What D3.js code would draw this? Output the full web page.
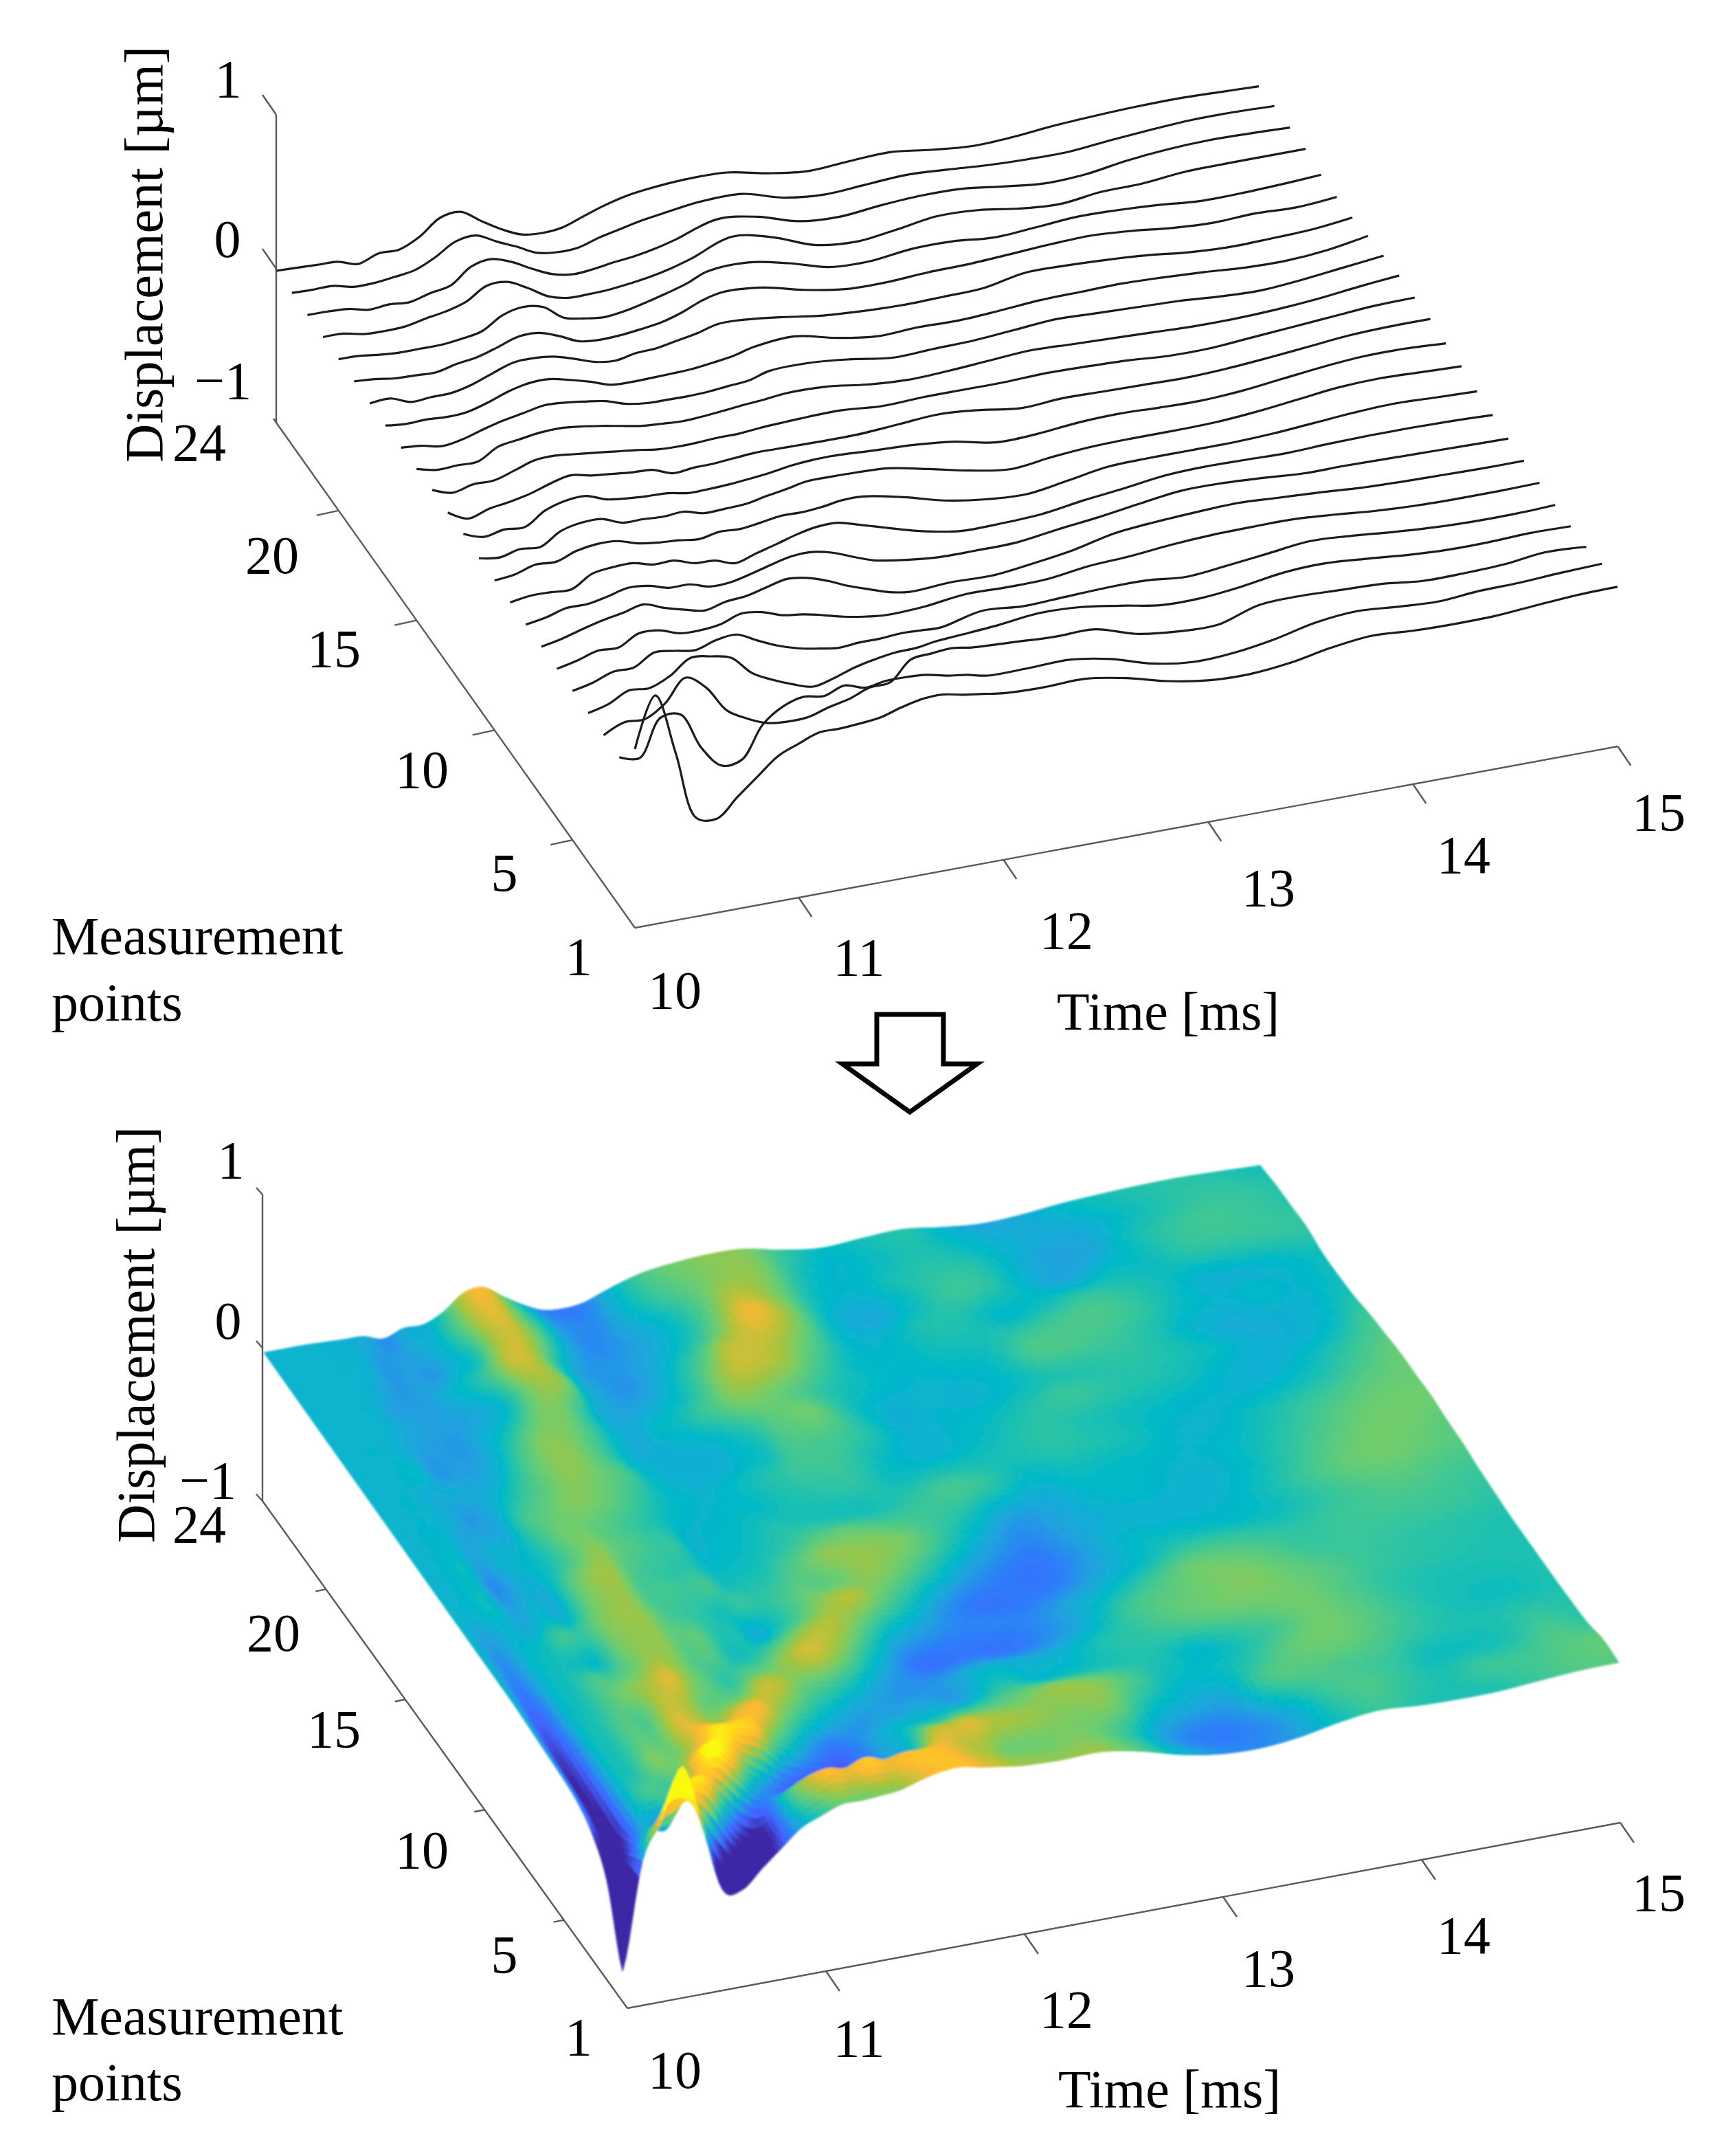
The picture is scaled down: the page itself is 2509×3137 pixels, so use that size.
<!DOCTYPE html>
<html>
<head>
<meta charset="utf-8">
<script src="https://cdn.jsdelivr.net/npm/d3@7"></script>
<style>
  body { margin: 0; background: #fff; }
  text { font-family: "Liberation Serif", serif; font-size: 78px; fill: #000; }
</style>
</head>
<body>
<svg id="chart" width="2509" height="3137">
  <defs><filter id="soft" x="-5%" y="-5%" width="110%" height="110%"><feGaussianBlur stdDeviation="1.6"/></filter></defs>
</svg>
<script>
//////////////////////////////////////////////////////////////
//                         data
//////////////////////////////////////////////////////////////

const times = [10.0, 10.1, 10.2, 10.3, 10.4, 10.5, 10.6, 10.7, 10.8, 10.9, 11.0, 11.1,
               11.2, 11.3, 11.4, 11.5, 11.6, 11.7, 11.8, 11.9, 12.0, 12.2, 12.4, 12.6,
               12.8, 13.0, 13.2, 13.4, 13.6, 13.8, 14.0, 14.2, 14.4, 14.6, 14.8, 15.0];

// displacement in um, one list per measurement point
const p24 = [0,0,0,-.005,-.011,-.015,-.055,-.01,-.01,.05,.15,.165,.08,0,-.06,-.075,-.062,-.015,.03,.065,.085,.105,.1,.045,.01,.025,.035,0,-.025,-.015,.01,.025,.035,.038,.03,.02];
const p23 = [0,0,0,-.004,-.004,-.035,-.035,-.02,0,.06,.14,.155,.09,.03,-.035,-.055,-.05,-.01,.02,.05,.07,.105,.105,.03,0,.015,.03,.015,-.005,-.015,-.015,.01,.03,.045,.045,.036];
const p22 = [0,0,0,-.002,-.01,-.04,-.03,-.04,-.005,.02,.12,.145,.1,.03,-.03,-.055,-.045,-.025,-.01,.015,.05,.133,.1,.02,0,.025,.04,.035,0,-.03,-.02,.02,.045,.055,.05,.04];
const p21 = [0,0,0,-.002,-.03,-.035,-.03,-.003,.02,.06,.14,.14,.075,-.005,-.04,-.04,-.035,-.02,0,.03,.07,.165,.11,.01,-.02,.01,.05,.04,0,-.02,.01,.015,.04,.045,.045,.045];
const p20 = [0,0,0,-.003,-.02,-.03,-.03,-.03,-.015,.01,.09,.12,.095,0,-.03,-.046,-.03,0,.035,.075,.13,.14,.085,.01,0,.03,.03,.005,.02,.04,.035,.02,-.005,-.005,.005,.02];
const p19 = [0,0,0,-.01,-.03,-.035,-.04,-.01,.01,.05,.095,.095,.05,-.01,-.025,-.02,-.005,.015,.055,.11,.14,.12,.055,.01,.005,.02,.025,.04,.056,.064,.045,.015,0,.01,0,.02];
const p18 = [0,0,0,.008,-.04,-.033,-.03,0,.05,.095,.1,.085,.045,0,-.017,.008,.015,.04,.065,.1,.1,.07,.03,.01,0,.005,.014,.064,.062,.05,.03,0,-.015,-.01,0,.03];
const p17 = [0,0,0,-.014,-.01,-.018,-.01,.027,.075,.105,.107,.077,.04,-.005,-.012,-.01,-.006,0,.016,.036,.07,.09,.03,-.01,0,-.005,.01,.03,.035,.04,.03,.015,-.005,-.01,.01,.055];
const p16 = [0,0,0,-.012,-.04,-.02,.02,.055,.08,.105,.098,.08,.058,.015,-.005,-.008,-.01,-.005,.008,.02,.058,.062,.035,-.005,.003,.01,.03,.05,.04,.03,.02,0,-.01,.01,.04,.07];
const p15 = [0,0,.005,-.025,-.02,-.02,.054,.075,.095,.1,.086,.065,.04,.016,.005,-.003,.004,.016,.03,.04,.055,.05,.014,-.005,.005,.023,.04,.03,.02,.01,0,0,.01,.03,.06,.085];
const p14 = [0,0,.013,-.03,0,0,.04,.084,.09,.075,.06,.043,.027,.006,0,.003,.01,.011,.023,.03,.036,.04,.018,.027,.027,.027,.036,.03,.02,0,0,.02,.04,.06,.08,.085];
const p13 = [0,0,.01,-.055,-.016,.004,.033,.076,.106,.08,.065,.05,.042,-.005,.006,.009,.02,.03,.029,.027,.025,.025,.043,.06,.038,0,.015,.01,.005,0,.01,.03,.055,.08,.09,.09];
const p12 = [0,0,.015,-.03,-.006,-.015,.07,.11,.116,.068,.05,.04,.034,.01,.012,.018,.03,.045,.066,.077,.08,.066,.053,.025,-.03,-.025,0,.009,0,-.005,.01,.04,.07,.09,.09,.075];
const p11 = [0,-.03,0,-.02,.01,0,.08,.11,.11,.06,.058,.05,.058,.023,.027,.033,.059,.082,.108,.11,.108,.095,.04,-.02,-.06,-.03,-.01,-.005,-.005,0,.02,.05,.08,.09,.08,.07];
const p10 = [0,-.05,0,.015,.054,.048,.095,.115,.11,.07,.05,.04,.023,.047,.04,.057,.077,.075,.086,.106,.105,.05,-.022,-.064,-.08,-.04,.003,.01,.01,.01,.02,.04,.06,.07,.06,.05];
const p9  = [0,-.07,0,.02,.018,.012,.09,.108,.11,.076,.077,.035,.027,-.015,.024,.06,.1,.126,.127,.09,.05,-.027,-.077,-.077,-.064,-.025,.005,.04,.05,.045,.04,.05,.055,.055,.05,.04];
const p8  = [0,-.1,0,.023,.06,.06,.086,.118,.106,.068,.066,.027,.03,.06,.097,.127,.13,.1,.048,0,-.025,-.057,-.06,-.056,-.02,.011,.05,.085,.085,.07,.05,.05,.045,.04,.035,.03];
const p7  = [-.01,-.13,0,.027,.066,.1,.125,.155,.107,.07,.04,.073,.085,.118,.148,.13,.085,.027,-.02,-.064,-.087,-.074,-.08,-.05,-.01,.05,.075,.09,.1,.085,.07,.05,.04,.035,.03,.03];
const p6  = [-.02,-.16,0,.03,.07,.065,.135,.13,.085,.08,.095,.14,.125,.08,.06,.03,-.005,-.03,-.046,-.045,-.037,-.005,-.01,-.005,.03,.045,.07,.085,.09,.09,.07,.045,.03,.025,.025,.03];
const p5  = [-.03,-.18,0,.03,.077,.08,.155,.14,.12,.16,.173,.11,.05,.007,-.02,-.04,-.03,-.03,-.02,-.025,-.03,.03,.01,.02,.03,.03,.005,.03,.06,.09,.075,.05,.03,.02,.02,.03];
const p4  = [-.05,-.2,0,.035,.1,.09,.145,.24,.225,.19,.065,-.005,-.06,-.1,-.07,-.025,.005,.025,.03,.05,.06,.08,.11,.1,.06,.014,.012,.04,.08,.09,.07,.045,.03,.03,.04,.035];
const p3  = [-.12,-.22,0,.06,.055,.135,.28,.19,.015,-.065,-.12,-.135,-.13,-.09,-.06,-.01,0,.125,.14,.15,.13,.115,.1,.1,.02,-.015,-.02,.06,.07,.06,.05,.02,.02,.03,.06,.045];
const p2  = [-.3,-.15,0,-.03,.21,.207,-.036,-.18,-.165,.04,.136,.175,.155,.2,.16,.18,.18,.17,.14,.12,.09,.09,.095,.05,-.03,-.07,-.06,-.02,.04,.065,.045,.03,.05,.055,.07,.08];
const p1  = [-.75,-.05,.2,.53,.12,-.33,-.36,-.243,-.13,-.02,.036,.085,.086,.095,.11,.15,.18,.186,.16,.14,.12,.11,.115,.07,0,-.045,-.055,-.03,.02,.05,.033,.027,.03,.05,.068,.073];

// back to front
const rows = [p24, p23, p22, p21, p20, p19, p18, p17, p16, p15, p14, p13,
              p12, p11, p10, p9, p8, p7, p6, p5, p4, p3, p2, p1];
const points = d3.range(24, 0, -1);

const timeTicks = [11, 12, 13, 14, 15];
const pointTicks = [20, 15, 10, 5];
const zTicks = [-1, 0, 1];

// colour map as it looks in the picture
const colorZ = [-.17, -.105, -.068, -.026, .008, .045, .09, .125, .17, .21, .26];
const colorHex = ["#3c26a5", "#4164ff", "#2d7dfa", "#1ea5dc", "#00b9c8", "#32c5a0",
                  "#6ecd6e", "#aac33c", "#fab932", "#ffcd1e", "#fafa0f"];

//////////////////////////////////////////////////////////////
//                         layout
//////////////////////////////////////////////////////////////

const svg = d3.select("#chart");
const color = d3.scaleLinear().domain(colorZ).range(colorHex).clamp(true);

// one oblique projection per panel
const makePanel = o => ({
  ...o,
  xT: d3.scaleLinear().domain([o.t0, 15]).range([0, o.xSpan]),
  yT: d3.scaleLinear().domain([o.t0, 15]).range([0, -o.ySpan]),
  xP: d3.scaleLinear().domain([24, 1]).range([o.x0, o.x0 + 522]),
  yP: d3.scaleLinear().domain([24, 1]).range([0, o.yStep]),
  yZ: d3.scaleLinear().domain([-1, 1]).range([o.y0 + 220, o.y0 - 220]),
  axisZ: d3.scaleLinear().domain([-1, 1]).range([o.axisBottom, o.axisTop]),
});
const dataX = (c, t, p) => c.xT(t) + c.xP(p);
const dataY = (c, t, p, z) => c.yT(t) + c.yP(p) + c.yZ(z);

const upper = makePanel({t0: 10.2, xSpan: 1430, ySpan: 264, x0: 402, y0: 394, yStep: 740,
                         axisTop: 167, axisBottom: 615,
                         corner: [924, 1350], tStep: [298, -55], tOrigin: 10.2,
                         zTick: [[-20, -29], [-20, -29], [-4, -6]],
                         axisX0: 402, pTick: [-32, 7], tTick: [19, 28]});
const lower = makePanel({t0: 10, xSpan: 1450, ySpan: 268, x0: 384, y0: 1968, yStep: 735,
                         axisTop: 1738, axisBottom: 2184,
                         corner: [913, 2922], tStep: [289, -54], tOrigin: 10,
                         zTick: [[-9, -10], [-9, -10], [-9, -10]],
                         axisX0: 382, pTick: [-15, 3], tTick: [20, 29]});

function drawAxes(c) {
  const g = svg.append("g").attr("fill", "none").attr("stroke", "#5a5a5a").attr("stroke-width", 2.4);
  const seg = (a, b) => g.append("path").attr("d", d3.line()([a, b]));
  const zBottom = c.axisZ(-1);
  const pAt = p => [c.axisX0 + (c.corner[0] - c.axisX0) * (24 - p) / 23,
                    zBottom + (c.corner[1] - zBottom) * (24 - p) / 23];
  const tAt = t => [c.corner[0] + c.tStep[0] * (t - c.tOrigin),
                    c.corner[1] + c.tStep[1] * (t - c.tOrigin)];

  seg([c.axisX0, c.axisZ(1)], [c.axisX0, zBottom]);
  seg(pAt(24), pAt(1));
  seg(c.corner, tAt(15));

  zTicks.slice().reverse().forEach((z, i) => {
    const a = [c.axisX0, c.axisZ(z)];
    seg(a, [a[0] + c.zTick[i][0], a[1] + c.zTick[i][1]]);
  });
  pointTicks.forEach(p => {
    const a = pAt(p);
    seg(a, [a[0] + c.pTick[0], a[1] + c.pTick[1]]);
  });
  timeTicks.forEach(t => {
    const a = tAt(t);
    seg(a, [a[0] + c.tTick[0], a[1] + c.tTick[1]]);
  });
}

function drawLabels(labels) {
  const g = svg.append("g");
  labels.forEach(l => {
    g.append("text")
      .attr("x", l[1]).attr("y", l[2])
      .attr("text-anchor", l[3] || "middle")
      .text(l[0]);
  });
}

//////////////////////////////////////////////////////////////
//                     upper panel: lines
//////////////////////////////////////////////////////////////

drawAxes(upper);

const linePath = d3.line().curve(d3.curveCatmullRom.alpha(0.5));
svg.append("g")
  .selectAll("path")
  .data(rows)
  .join("path")
  .attr("fill", "none")
  .attr("stroke", "#1c1c1c")
  .attr("stroke-width", 3.2)
  .attr("d", (row, i) => linePath(
    times.map((t, k) => ({t: t, z: row[k]}))
      .filter(d => d.t >= upper.t0)
      .map(d => [dataX(upper, d.t, points[i]), dataY(upper, d.t, points[i], d.z)])));

drawLabels([
  ["1", 332, 141], ["0", 331, 374], ["\u22121", 366, 580, "end"],
  ["24", 290, 670], ["20", 396, 834], ["15", 486, 970], ["10", 614, 1146], ["5", 734, 1296], ["1", 842, 1418],
  ["10", 982, 1467], ["11", 1250, 1419], ["12", 1552, 1380], ["13", 1846, 1318], ["14", 2130, 1270], ["15", 2414, 1208],
  ["Time [ms]", 1538, 1498, "start"],
  ["Measurement", 75, 1388, "start"], ["points", 75, 1485, "start"],
]);
svg.append("text").attr("transform", "translate(236,370) rotate(-90)")
  .attr("text-anchor", "middle").text("Displacement [\u00b5m]");

//////////////////////////////////////////////////////////////
//                         arrow
//////////////////////////////////////////////////////////////

const arrowX = [1276, 1373, 1373, 1422, 1324, 1226, 1276];
const arrowY = [1476, 1476, 1548, 1548, 1618, 1548, 1548];
svg.append("path")
  .attr("d", d3.line()(arrowX.map((x, i) => [x, arrowY[i]])) + "Z")
  .attr("fill", "#fff")
  .attr("stroke", "#000")
  .attr("stroke-width", 7)
  .attr("stroke-linejoin", "miter");

//////////////////////////////////////////////////////////////
//                     lower panel: surface
//////////////////////////////////////////////////////////////

const catmull = (a, b, c, d, s) =>
  0.5 * (2 * b + (c - a) * s + (2 * a - 5 * b + 4 * c - d) * s * s + (3 * b - a - 3 * c + d) * s * s * s);
const at = (arr, i) => arr[Math.max(0, Math.min(arr.length - 1, i))];

// resample a list between its values, for a smooth surface only
const refine = (arr, n, f) => {
  const out = [];
  for (let i = 0; i < arr.length - 1; i++) {
    for (let j = 0; j < n; j++) {
      out.push(f(arr, i, j / n));
    }
  }
  out.push(arr[arr.length - 1]);
  return out;
};
const smooth = (arr, i, s) => catmull(at(arr, i - 1), at(arr, i), at(arr, i + 1), at(arr, i + 2), s);
const straight = (arr, i, s) => arr[i] + (arr[i + 1] - arr[i]) * s;

const subT = 6;
const subP = 6;
const fineT = refine(times, subT, straight);
const fineP = refine(points, subP, straight);
const byT = rows.map(r => refine(r, subT, smooth));
const fineZ = fineT.map((t, k) => refine(byT.map(r => r[k]), subP, smooth));

const quads = [];
for (let j = 0; j < fineP.length - 1; j++) {
  for (let k = fineT.length - 2; k >= 0; k--) {
    quads.push({k: k, j: j});
  }
}
const corner = (k, j) => [dataX(lower, fineT[k], fineP[j]), dataY(lower, fineT[k], fineP[j], fineZ[k][j])];
const quadColor = q => color((fineZ[q.k][q.j] + fineZ[q.k + 1][q.j] + fineZ[q.k][q.j + 1] + fineZ[q.k + 1][q.j + 1]) / 4);

drawAxes(lower);

svg.append("g")
  .attr("filter", "url(#soft)")
  .selectAll("path")
  .data(quads)
  .join("path")
  .attr("d", q => d3.line()([corner(q.k, q.j), corner(q.k + 1, q.j), corner(q.k + 1, q.j + 1), corner(q.k, q.j + 1)]) + "Z")
  .attr("fill", quadColor)
  .attr("stroke", quadColor)
  .attr("stroke-width", 1);

drawLabels([
  ["1", 336, 1714], ["0", 332, 1948], ["\u22121", 344, 2180, "end"],
  ["24", 290, 2244], ["20", 398, 2402], ["15", 486, 2542], ["10", 614, 2718], ["5", 734, 2870], ["1", 842, 2990],
  ["10", 982, 3038], ["11", 1250, 2992], ["12", 1552, 2950], ["13", 1846, 2890], ["14", 2130, 2842], ["15", 2414, 2780],
  ["Time [ms]", 1540, 3066, "start"],
  ["Measurement", 75, 2960, "start"], ["points", 75, 3056, "start"],
]);
svg.append("text").attr("transform", "translate(224,1942) rotate(-90)")
  .attr("text-anchor", "middle").text("Displacement [\u00b5m]");
</script>
</body>
</html>
